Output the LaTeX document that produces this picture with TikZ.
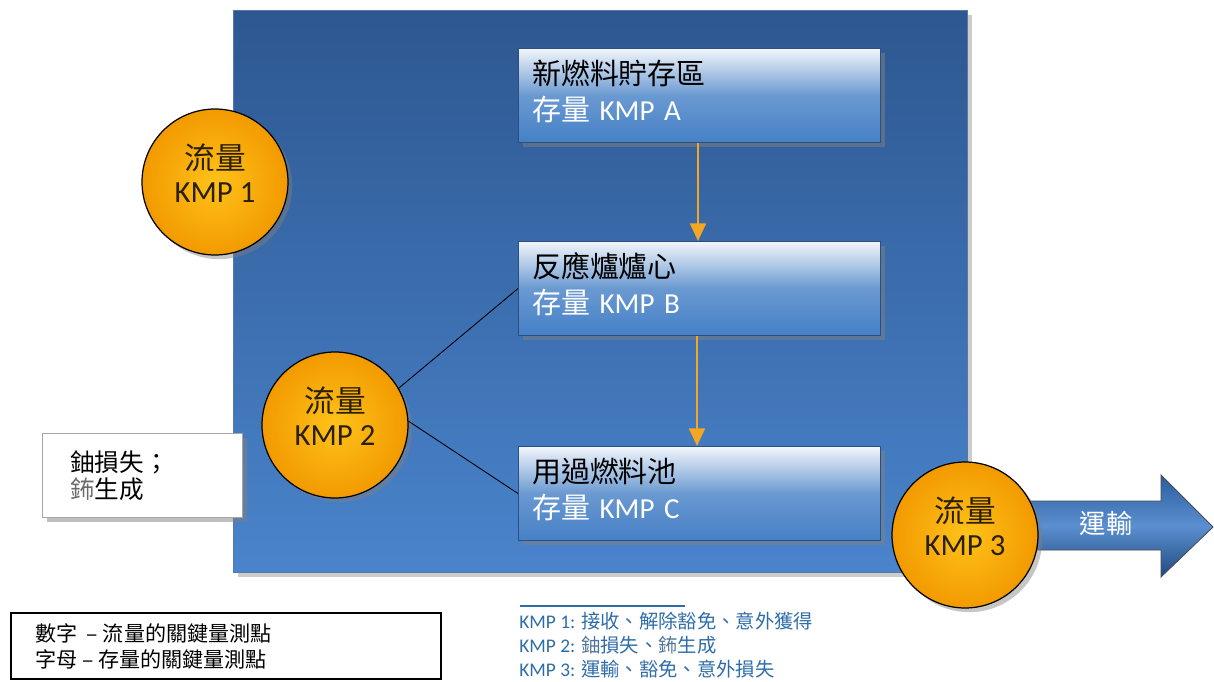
\documentclass[tikz,border=0pt]{standalone}
\usepackage{fontspec}
\setmainfont{Carlito}
\newfontfamily\cjk{Noto Sans CJK TC}
\usetikzlibrary{shadows,arrows.meta}
\definecolor{rectTop}{HTML}{2D5790}
\definecolor{rectBot}{HTML}{4A84CC}
\definecolor{boxTop}{HTML}{F2F6FB}
\definecolor{boxMid}{HTML}{6A99D1}
\definecolor{boxBot}{HTML}{4580C6}
\definecolor{boxEdge}{HTML}{2A4F80}
\definecolor{orIn}{HTML}{FFC21A}
\definecolor{orOut}{HTML}{F29A00}
\definecolor{orLine}{HTML}{F5A623}
\definecolor{kmpText}{HTML}{2A2000}
\definecolor{legBlue}{HTML}{2F6DA8}
\definecolor{arrTop}{HTML}{2B5D9E}
\definecolor{arrMid}{HTML}{5B8FCF}
\definecolor{arrBot}{HTML}{1F4A82}
\definecolor{fbGray}{HTML}{6A6A6A}
\tikzset{
  stockbox/.style={draw=boxEdge, line width=0.6pt, top color=boxTop, bottom color=boxBot, middle color=boxMid,
    minimum width=7.24cm, minimum height=1.88cm, anchor=north west, drop shadow={opacity=0.5}},
  stocktext/.style={align=left, text width=6.7cm, font=\fontsize{16.5}{20.5}\selectfont, yshift=2.5pt},
  kmp/.style={circle, draw=black, line width=0.7pt, inner color=orIn, outer color=orOut,
    minimum size=2.92cm, drop shadow={opacity=0.45}},
  kmplbl/.style={align=center, text=kmpText, font=\fontsize{17.5}{18.5}\selectfont, yshift=5pt},
  flowarrow/.style={draw=orLine, line width=1.4pt, -{Triangle[width=9pt,length=10pt]}},
  thinlink/.style={draw=black, line width=0.5pt}
}
\begin{document}
\begin{tikzpicture}[x=0.02cm, y=-0.02cm]
\useasboundingbox (0,0) rectangle (1214,682);
% main area
\node[draw=rectTop!80!white, line width=0.6pt, top color=rectTop, bottom color=rectBot,
  minimum width=14.68cm, minimum height=11.24cm, anchor=north west, drop shadow={opacity=0.4}] (area) at (233,10) {};
% stock boxes
\node[stockbox, label={[stocktext]center:{\cjk 新燃料貯存區}\\{\color{white}{\cjk 存量} KMP A}}] (A) at (518,48) {};
\node[stockbox, label={[stocktext]center:{\cjk 反應爐爐心}\\{\color{white}{\cjk 存量} KMP B}}] (B) at (518,241) {};
\node[stockbox, label={[stocktext]center:{\cjk 用過燃料池}\\{\color{white}{\cjk 存量} KMP C}}] (C) at (518,446) {};
\draw[flowarrow] (A.south -| 698,0) -- (B.north -| 698,0);
\draw[flowarrow] (B.south -| 697,0) -- (C.north -| 697,0);
% white box
\node[draw=gray!70, line width=0.6pt, fill=white, minimum width=4cm, minimum height=1.68cm,
  anchor=north west, drop shadow={opacity=0.5},
  label={[anchor=west, align=left, inner sep=0pt, xshift=0.56cm, font=\cjk\fontsize{14}{15.5}\selectfont]west:鈾損失；\\\textcolor{fbGray}{鈽}生成}] (loss) at (42,433) {};
% circles
\node[kmp, label={[kmplbl]center:{\cjk 流量}\\KMP 1}] (K1) at (215,182) {};
\node[kmp, label={[kmplbl]center:{\cjk 流量}\\KMP 2}] (K2) at (335,425) {};
\draw[thinlink] (K2.30) -- (B.west);
\draw[thinlink] (K2.3) -- (C.west);
% big arrow
\shade[top color=arrTop, bottom color=arrBot, middle color=arrMid, draw=black!70, line width=0.5pt]
  (990,501) -- (1161,501) -- (1161,475) -- (1213,527) -- (1161,577) -- (1161,550) -- (990,550) -- cycle;
\node[text=white, font=\cjk\fontsize{15}{17}\selectfont] (ship) at (1106,523) {運輸};
\node[kmp, label={[kmplbl]center:{\cjk 流量}\\KMP 3}] (K3) at (965,535) {};
% legend box
\node[draw=black, line width=1.2pt, minimum width=8.6cm, minimum height=1.32cm, anchor=north west,
  label={[anchor=west, align=left, inner sep=0pt, xshift=0.5cm, font=\cjk\fontsize{12}{14.8}\selectfont]west:數字\ \ – 流量的關鍵量測點\\字母 – 存量的關鍵量測點}] (legend) at (10,612) {};
% KMP legend
\coordinate (rl) at (520,606);
\coordinate (rr) at (685,606);
\draw[legBlue, line width=1pt] (rl) -- (rr);
\node[anchor=north west, inner sep=0pt, align=left, text=legBlue, font=\fontsize{11}{13.7}\selectfont] (kmpleg) at (519,612)
  {KMP 1: {\cjk 接收、解除豁免、意外獲得}\\KMP 2: {\cjk\textcolor{legBlue!60!gray}{鈾}損失、\textcolor{legBlue!60!gray}{鈽}生成}\\KMP 3: {\cjk 運輸、豁免、意外損失}};
\end{tikzpicture}
\end{document}
